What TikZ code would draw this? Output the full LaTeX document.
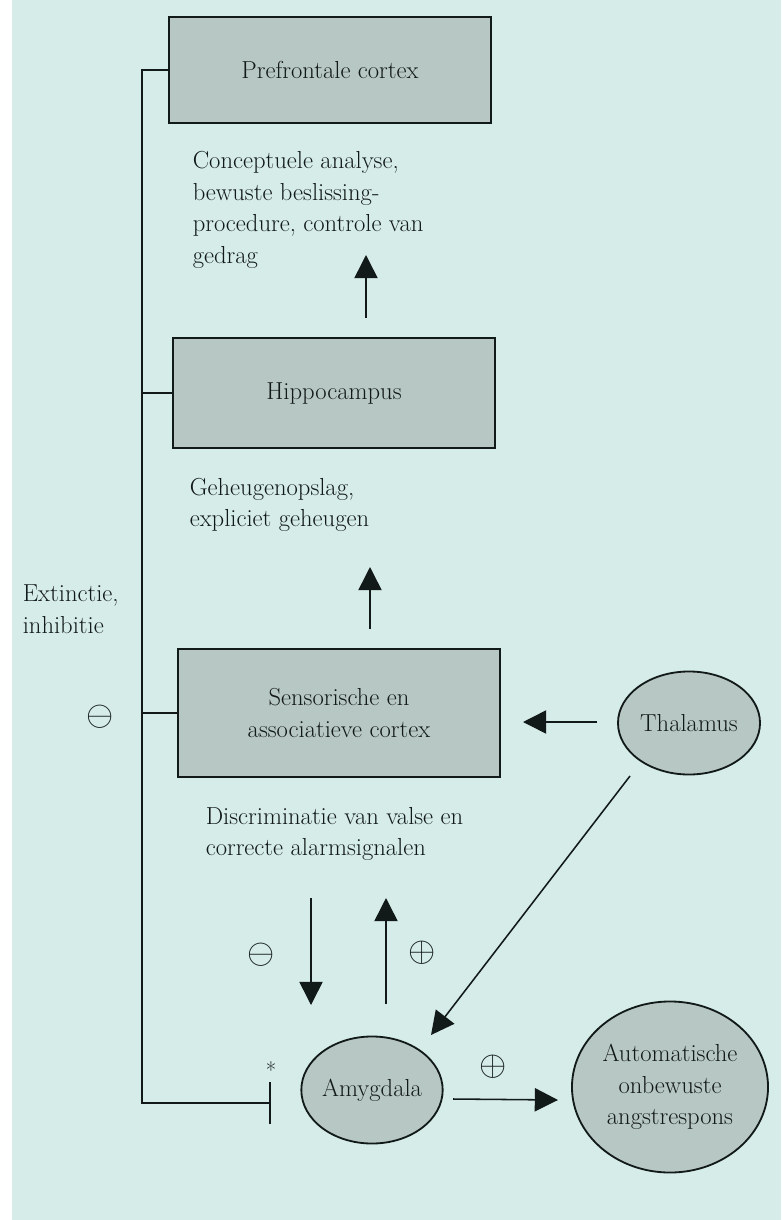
\documentclass[tikz,border=0pt]{standalone}
\usepackage{amsmath,amssymb}
\usepackage{xcolor}
\usepackage{tikz}
\usetikzlibrary{arrows.meta,positioning,shapes.geometric}

\definecolor{paper}{RGB}{213,236,232}
\definecolor{shade}{RGB}{183,199,196}
\definecolor{ink}{RGB}{18,26,25}

\begin{document}
\begin{tikzpicture}[
  x=0.025cm, y=-0.025cm,
  region/.style={draw=ink, line width=2pt, fill=shade, minimum width=8.05cm,
    inner sep=0pt, align=center, font=\fontsize{17.5}{22.5}\selectfont},
  nucleus/.style={ellipse, draw=ink, line width=1.3pt, fill=shade,
    inner sep=0pt, align=center, font=\fontsize{17.5}{22.5}\selectfont},
  note/.style={anchor=west, align=left, inner sep=0pt,
    font=\fontsize{17.5}{22.5}\selectfont},
  sign/.style={inner sep=0pt, font=\fontsize{27}{27}\selectfont},
  >={Triangle[length=0.58cm,width=0.58cm]},
  line width=1.1pt, color=ink
]
% paper
\fill[white] (0,0) rectangle (781,1220);
\fill[paper] (12,0) rectangle (781,1220);
\useasboundingbox (0,0) rectangle (781,1220);

% brain regions
\node[region, minimum height=2.65cm] (pfc) at (330,70) {Prefrontale cortex};
\node[region, minimum height=2.75cm] (hip) at (334,393) {Hippocampus};
\node[region, minimum height=3.2cm] (sens) at (339,713) {Sensorische en\\associatieve cortex};
\node[nucleus, minimum width=3.55cm, minimum height=2.575cm] (thal) at (689,723) {Thalamus};
\node[nucleus, minimum width=3.5cm, minimum height=2.675cm] (amy) at (372,1090) {Amygdala};
\node[nucleus, minimum width=4.9cm, minimum height=4.275cm] (resp) at (670,1087) {Automatische\\onbewuste\\angstrespons};

% functions
\node[note] (pfcnote) at (192,210) {Conceptuele analyse,\\bewuste beslissing-\\procedure, controle van\\gedrag};
\node[note] (hipnote) at (189,505) {Geheugenopslag,\\expliciet geheugen};
\node[note] (sensnote) at (205,834) {Discriminatie van valse en\\correcte alarmsignalen};
\node[note] (extnote) at (22,609) {Extinctie,\\inhibitie};

% signs
\node[sign] (minl) at (100,717) {$\ominus$};
\node[sign] (minm) at (261,955) {$\ominus$};
\node[sign] (plusm) at (422,953) {$\oplus$};
\node[sign] (plusr) at (493,1067) {$\oplus$};
\node[inner sep=0pt, font=\fontsize{16}{16}\selectfont] (star) at (271,1070) {*};

% arrow ends
\coordinate (up1a) at (366,318);
\coordinate (up1b) at (366,255);
\coordinate (up2a) at (370,629);
\coordinate (up2b) at (370,567);
\coordinate (dna) at (311,898);
\coordinate (dnb) at (311,1005);
\coordinate (upa) at (386,1004);
\coordinate (upb) at (386,898);
\coordinate (thalleft) at (597,722);
\coordinate (sensright) at (523,722);
\coordinate (thalout) at (630,776);
\coordinate (amyin) at (431,1035);
\coordinate (amyout) at (453,1099);
\coordinate (respin) at (558,1100);
\coordinate (spine) at (142,1103);
\coordinate (block) at (271,1103);

\draw[->] (up1a) -- (up1b);
\draw[->] (up2a) -- (up2b);
\draw[->] (dna) -- (dnb);
\draw[->] (upa) -- (upb);
\draw[->] (thalleft) -- (sensright);
\draw[->] (thalout) -- (amyin);
\draw[->] (amyout) -- (respin);

% inhibition
\draw[-{Bar[width=1.03cm]}] (pfc.west) -| (spine) -- (block);
\draw (hip.west) -- (hip.west -| spine);
\draw (sens.west) -- (sens.west -| spine);
\end{tikzpicture}
\end{document}
